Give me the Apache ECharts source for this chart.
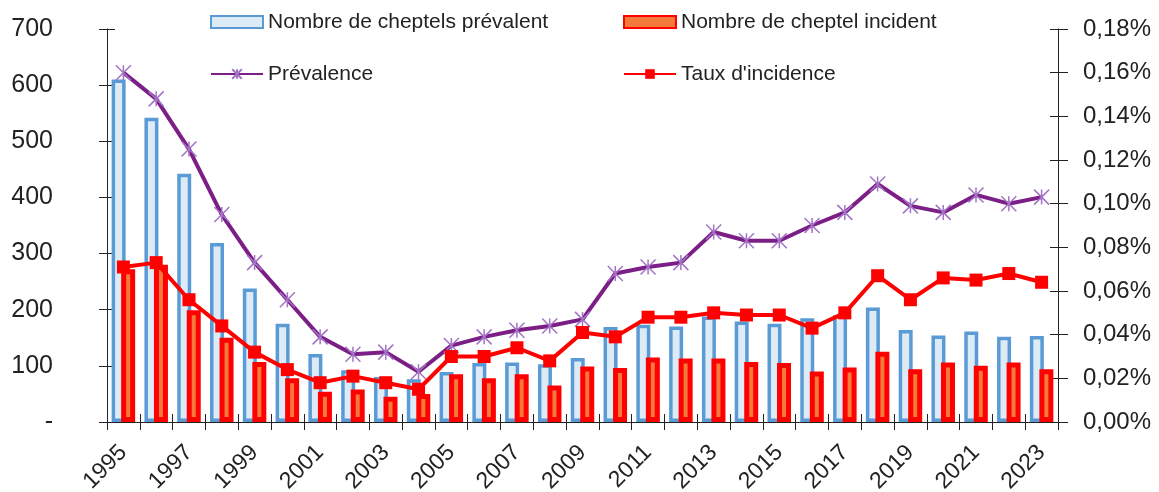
<!DOCTYPE html>
<html>
<head>
<meta charset="utf-8">
<script src="https://cdn.jsdelivr.net/npm/echarts@6/dist/echarts.min.js"></script>
<style>
  html, body { margin: 0; padding: 0; background: #fff; }
  #main { width: 1159px; height: 492px; }
</style>
</head>
<body>
<div id="main"></div>
<script>
// années
const years = ['1995', '1996', '1997', '1998', '1999', '2000', '2001', '2002', '2003', '2004',
  '2005', '2006', '2007', '2008', '2009', '2010', '2011', '2012', '2013', '2014',
  '2015', '2016', '2017', '2018', '2019', '2020', '2021', '2022', '2023'];

// nombre de cheptels (axe gauche)
const prevalentHerds = [610, 542, 442, 319, 238, 175, 121, 92, 80, 76, 89, 105, 106, 103, 114,
  169, 173, 170, 188, 179, 175, 185, 190, 204, 164, 154, 161, 152, 153];
const incidentHerds = [272, 280, 199, 150, 107, 78, 54, 58, 45, 50, 85, 78, 85, 65, 99,
  96, 115, 113, 113, 107, 105, 90, 97, 125, 94, 106, 100, 106, 94];

// taux en % (axe droit)
const prevalence = [0.160, 0.148, 0.125, 0.095, 0.073, 0.056, 0.039, 0.031, 0.032, 0.023,
  0.035, 0.039, 0.042, 0.044, 0.047, 0.068, 0.071, 0.073, 0.087, 0.083,
  0.083, 0.090, 0.096, 0.109, 0.099, 0.096, 0.104, 0.100, 0.103];
const incidence = [0.071, 0.073, 0.056, 0.044, 0.032, 0.024, 0.018, 0.021, 0.018, 0.015,
  0.030, 0.030, 0.034, 0.028, 0.041, 0.039, 0.048, 0.048, 0.050, 0.049,
  0.049, 0.043, 0.050, 0.067, 0.056, 0.066, 0.065, 0.068, 0.064];

const font = 'Liberation Sans, Arial, sans-serif';
const txt = '#222';
// marqueur étoile (x + barre verticale)
const starPath = 'path://M0,0 L10,10 M10,0 L0,10 M5,0 L5,10';

const chart = echarts.init(document.getElementById('main'));

// axes supplémentaires : seulement les graduations vers l'intérieur (graduations croisées)
const tickOnly = {
  axisLine: { show: false },
  axisLabel: { show: false },
  splitLine: { show: false },
  axisTick: { show: true, inside: true, length: 8, lineStyle: { color: txt } }
};

const legendText = { fontSize: 21, color: txt, lineHeight: 24, fontFamily: font };

const option = {
  animation: false,
  textStyle: { fontFamily: font },
  grid: { left: 107, right: 101, top: 29, bottom: 70, containLabel: false, outerBoundsMode: 'none' },
  legend: [
    {
      left: 210, top: 10, orient: 'vertical', padding: 0,
      itemWidth: 52, itemHeight: 12, itemGap: 28,
      textStyle: legendText,
      data: [{ name: 'Nombre de cheptels prévalent', icon: 'rect' }, 'Prévalence']
    },
    {
      left: 623, top: 10, orient: 'vertical', padding: 0,
      itemWidth: 52, itemHeight: 12, itemGap: 28,
      textStyle: legendText,
      data: [{ name: 'Nombre de cheptel incident', icon: 'rect' }, "Taux d'incidence"]
    }
  ],
  xAxis: [
    {
      type: 'category',
      data: years,
      boundaryGap: true,
      axisLine: { lineStyle: { color: txt } },
      axisTick: { show: true, interval: 0, length: 8, lineStyle: { color: txt } },
      axisLabel: { interval: 1, rotate: 45, fontSize: 23, color: txt, margin: 27, fontFamily: font }
    },
    Object.assign({ type: 'category', data: years, position: 'bottom', boundaryGap: true }, tickOnly,
      { axisTick: { show: true, inside: true, interval: 0, length: 8, lineStyle: { color: txt } } })
  ],
  yAxis: [
    {
      type: 'value', min: 0, max: 700, interval: 100, position: 'left',
      axisLine: { show: true, lineStyle: { color: txt } },
      axisTick: { show: true, length: 8, lineStyle: { color: txt } },
      splitLine: { show: false },
      axisLabel: {
        fontSize: 25, color: txt, margin: 54, fontFamily: font,
        formatter: v => (v === 0 ? '-' : String(v))
      }
    },
    {
      type: 'value', min: 0, max: 0.18, interval: 0.02, position: 'right',
      axisLine: { show: true, lineStyle: { color: txt } },
      axisTick: { show: true, length: 10, lineStyle: { color: txt } },
      splitLine: { show: false },
      axisLabel: {
        fontSize: 24, color: txt, margin: 25, fontFamily: font,
        formatter: v => v.toFixed(2).replace('.', ',') + '%'
      }
    },
    Object.assign({ type: 'value', min: 0, max: 700, interval: 100, position: 'left' }, tickOnly),
    Object.assign({ type: 'value', min: 0, max: 0.18, interval: 0.02, position: 'right' }, tickOnly)
  ],
  series: [
    {
      name: 'Nombre de cheptels prévalent',
      type: 'bar',
      yAxisIndex: 0,
      barWidth: 14,
      barGap: '-32%',
      data: prevalentHerds,
      itemStyle: { color: '#ddebf7', borderColor: '#5b9bd5', borderWidth: 3.5 },
      z: 2
    },
    {
      name: 'Nombre de cheptel incident',
      type: 'bar',
      yAxisIndex: 0,
      barWidth: 14,
      data: incidentHerds,
      itemStyle: { color: '#f47a3a', borderColor: '#ff0000', borderWidth: 5 },
      z: 3
    },
    {
      name: 'Prévalence',
      type: 'line',
      yAxisIndex: 1,
      data: prevalence,
      symbol: starPath,
      symbolSize: 15,
      lineStyle: { color: '#7b1f86', width: 4 },
      itemStyle: { color: 'rgba(0,0,0,0)', borderColor: '#a374c6', borderWidth: 1.5 },
      z: 5
    },
    {
      name: "Taux d'incidence",
      type: 'line',
      yAxisIndex: 1,
      data: incidence,
      symbol: 'rect',
      symbolSize: 13,
      lineStyle: { color: '#ff0000', width: 4 },
      itemStyle: { color: '#ff0000' },
      z: 6
    }
  ]
};

chart.setOption(option);
</script>
</body>
</html>
